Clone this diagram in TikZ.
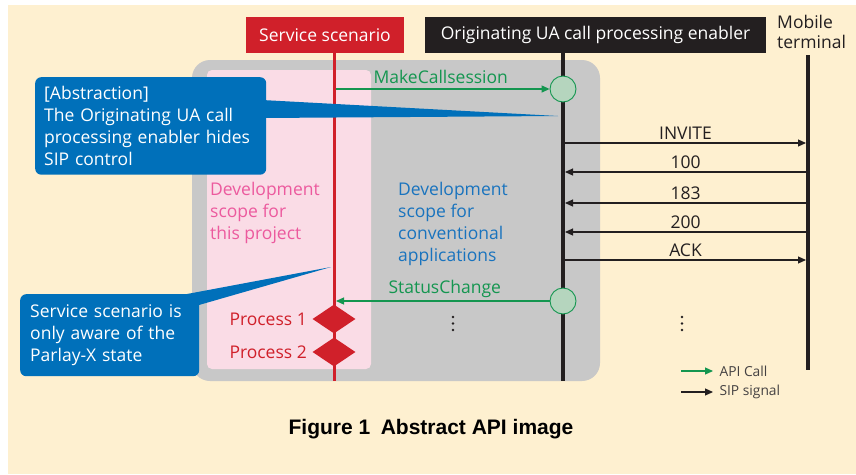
\documentclass[tikz,border=0pt]{standalone}
\usepackage{fontspec}
\setmainfont{Open Sans}
\newfontfamily\capfont{Liberation Sans}
\usetikzlibrary{arrows.meta,shapes.geometric}
\definecolor{cream}{RGB}{254,240,208}
\definecolor{scopegray}{RGB}{200,200,200}
\definecolor{scopepink}{RGB}{250,220,230}
\definecolor{ssred}{RGB}{208,32,42}
\definecolor{apigreen}{RGB}{20,150,80}
\definecolor{circfill}{RGB}{181,213,190}
\definecolor{callblue}{RGB}{0,112,186}
\definecolor{pinktext}{RGB}{236,90,158}
\definecolor{bluetext}{RGB}{25,115,190}
\definecolor{sipblack}{RGB}{35,31,32}
\tikzset{
  lbl/.style={inner sep=0pt,font=\fontsize{17.5}{22}\selectfont},
  head/.style={lbl,text=white,minimum height=36pt},
  api/.style={draw=apigreen,line width=1.3pt,-{Triangle[length=8pt,width=7pt]}},
  sip/.style={draw=sipblack,line width=1.1pt,-{Triangle[length=8pt,width=7pt]}},
  apicirc/.style={circle,draw=apigreen,line width=0.9pt,fill=circfill,minimum size=26pt,inner sep=0pt},
  procdia/.style={diamond,fill=ssred,inner sep=0pt,minimum width=43pt,minimum height=29pt},
  callout/.style={lbl,fill=callblue,text=white,rounded corners=6pt,anchor=north west,align=left},
  legend/.style={lbl,text=sipblack!85,right=6pt,font=\fontsize{13.8}{16}\selectfont}
}
\begin{document}
\begin{tikzpicture}[x=1pt,y=1pt,yscale=-1,xscale=1]
  \useasboundingbox (0,0) rectangle (856,474);
  \fill[white] (0,0) rectangle (856,474);
  \fill[cream] (8,5) rectangle (856,474);

  % scopes
  \fill[scopegray,rounded corners=18pt] (192,60) rectangle (600,381);
  \fill[scopepink,rounded corners=5pt] (207,70) rectangle (371,369);

  % lifeline heads
  \node[head,fill=ssred,minimum width=158pt] (ss) at (325,35) {Service scenario};
  \node[head,fill=sipblack,minimum width=341pt] (oe) at (595.5,35) {Originating UA call processing enabler};
  % base = baseline of the last line
  \node[lbl,text=sipblack,align=left,anchor=base west,font=\fontsize{17.5}{20}\selectfont] (mt) at (777,48) {Mobile\\terminal};

  % lifelines
  \coordinate (ss-end) at (334,381);
  \coordinate (oe-end) at (563,381);
  \coordinate (mt-top) at (808,55);
  \coordinate (mt-end) at (808,370);
  \draw[ssred,line width=3pt] (ss.south -| ss-end) -- (ss-end);
  \draw[sipblack,line width=3.5pt] (oe.south -| oe-end) -- (oe-end);
  \draw[sipblack,line width=3.5pt] (mt-top) -- (mt-end);

  % scope texts
  \node[lbl,text=pinktext,align=left,anchor=base west] (dev1) at (210,239) {Development\\scope for\\this project};
  \node[lbl,text=bluetext,align=left,anchor=base west] (dev2) at (398,261) {Development\\scope for\\conventional\\applications};

  % API calls
  \node[apicirc] (mcs) at (563,89) {};
  \node[apicirc] (stc) at (563,301) {};
  \coordinate (ss-mcs) at (336,89);
  \coordinate (ss-stc) at (336,301);
  \draw[api] (ss-mcs) -- node[lbl,text=apigreen,above=5pt,xshift=-2pt] {MakeCallsession} (mcs.west);
  \draw[api] (stc.west) -- node[lbl,text=apigreen,above=3pt,xshift=2pt] {StatusChange} (ss-stc);

  % SIP signals
  \foreach \y/\m in {143/inv,172/c100,203/c183,232/c200,260/ack} {
    \coordinate (oe-\m) at (565,\y);
    \coordinate (mt-\m) at (806,\y);
  }
  \draw[sip] (oe-inv) -- node[lbl,text=sipblack,above=3pt] {INVITE} (mt-inv);
  \draw[sip] (mt-c100) -- node[lbl,text=sipblack,above=3pt] {100} (oe-c100);
  \draw[sip] (mt-c183) -- node[lbl,text=sipblack,above=3pt] {183} (oe-c183);
  \draw[sip] (mt-c200) -- node[lbl,text=sipblack,above=3pt] {200} (oe-c200);
  \draw[sip] (oe-ack) -- node[lbl,text=sipblack,above=3pt] {ACK} (mt-ack);

  % processes
  \node[procdia] (p1) at (334,319) {};
  \node[procdia] (p2) at (334,352) {};
  \node[lbl,text=ssred,anchor=east] (p1-lbl) at (307,319) {Process 1};
  \node[lbl,text=ssred,anchor=east] (p2-lbl) at (307,352) {Process 2};

  % continuation dots
  \foreach \x in {453,682}
    \foreach \y in {317,323.5,330}
      \fill[sipblack] (\x,\y) circle (1.3pt);

  % callouts
  \fill[callblue] (262,100) -- (558,116) -- (262,118) -- cycle;
  \node[callout,text width=213pt,minimum height=96pt,inner sep=9pt] (abs) at (35,77)
    {[Abstraction]\\The Originating UA call\\processing enabler hides\\SIP control};
  \fill[callblue] (187,294) -- (331,267) -- (199,305) -- cycle;
  \node[callout,text width=159pt,minimum height=82pt,inner sep=10pt] (aware) at (20,294)
    {Service scenario is\\only aware of the\\Parlay-X state};

  % legend
  \coordinate (lg-api-a) at (681,371);
  \coordinate (lg-api-b) at (713,371);
  \coordinate (lg-sip-a) at (681,392);
  \coordinate (lg-sip-b) at (713,392);
  \draw[api,line width=1.1pt] (lg-api-a) -- (lg-api-b) node[legend] {API Call};
  \draw[sip] (lg-sip-a) -- (lg-sip-b) node[legend] {SIP signal};

  % caption
  \node[inner sep=0pt,font=\capfont\bfseries\fontsize{21}{24}\selectfont] (cap) at (431,429) {Figure 1\hspace{0.5em}Abstract API image};
\end{tikzpicture}
\end{document}
